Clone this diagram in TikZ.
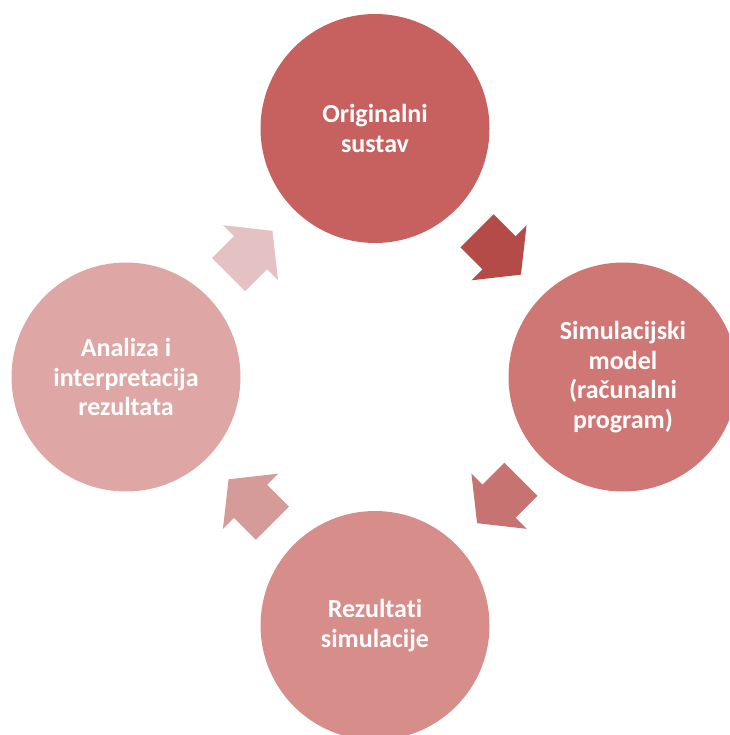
\documentclass[tikz,border=0pt]{standalone}
\usepackage{fontspec}
\setmainfont{Carlito}[Ligatures=NoCommon,RawFeature=-liga]
\usetikzlibrary{calc}
\definecolor{cA}{RGB}{199,97,95}
\definecolor{cB}{RGB}{206,119,116}
\definecolor{cC}{RGB}{215,142,139}
\definecolor{cD}{RGB}{222,166,164}
\definecolor{aA}{RGB}{181,75,73}
\definecolor{aB}{RGB}{198,115,113}
\definecolor{aC}{RGB}{212,155,153}
\definecolor{aD}{RGB}{228,193,194}
\tikzset{
  bubble/.style={circle, minimum size=229pt, inner sep=0pt, draw=none,
    text=white, align=center, font=\bfseries\fontsize{26}{29.5}\selectfont},
  cyclearrow/.pic={\fill[pic actions] (-31,-23.5) -- (0,-23.5) -- (0,-39) -- (31,0) -- (0,39) -- (0,23.5) -- (-31,23.5) -- cycle;}
}
\begin{document}
\begin{tikzpicture}[x=1pt,y=-1pt]
\useasboundingbox (0,0) rectangle (729,735);
\begin{scope}
\clip (0,0) rectangle (729,735);
\node[bubble, fill=cA] (top) at (375,128.5) {Originalni\\sustav};
\node[bubble, fill=cB] (right) at (623,377) {Simulacijski\\model\\(računalni\\program)};
\node[bubble, fill=cC] (bottom) at (375,625.5) {Rezultati\\simulacije};
\node[bubble, fill=cD] (left) at (126,377) {Analiza i\\interpretacija\\rezultata};
\pic[fill=aA, rotate=-45] at ($(top)!0.5!(right)$) {cyclearrow};
\pic[fill=aB, rotate=-135] at ($(right)!0.5!(bottom)$) {cyclearrow};
\pic[fill=aC, rotate=135] at ($(bottom)!0.5!(left)$) {cyclearrow};
\pic[fill=aD, rotate=45] at ($(left)!0.5!(top)$) {cyclearrow};
\end{scope}
\end{tikzpicture}
\end{document}
